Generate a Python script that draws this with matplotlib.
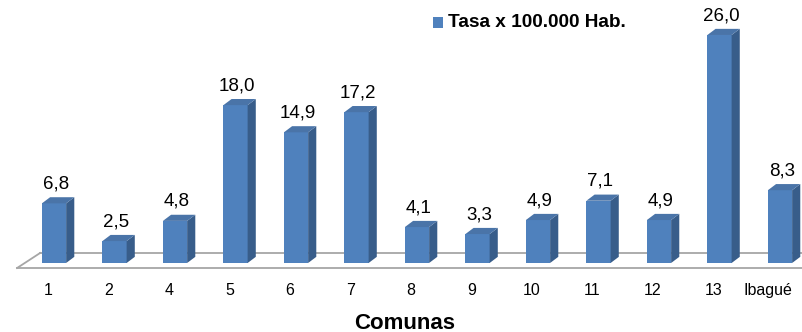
import matplotlib
matplotlib.use('Agg')
import matplotlib.pyplot as plt
from matplotlib.patches import Polygon

# datos
comunas = ['1', '2', '4', '5', '6', '7', '8', '9', '10', '11', '12', '13', 'Ibagué']
tasa = [6.8, 2.5, 4.8, 18.0, 14.9, 17.2, 4.1, 3.3, 4.9, 7.1, 4.9, 26.0, 8.3]
serie = 'Tasa x 100.000 Hab.'

plt.rcParams['font.family'] = ['Liberation Sans', 'DejaVu Sans']

front = '#4F81BD'
side = '#385D8A'
top = '#4A74A8'

fig = plt.figure(figsize=(8.03, 3.32), dpi=100)
ax = fig.add_axes([0, 0, 1, 1])
ax.set_xlim(-0.893, 12.38)
ax.set_ylim(-7.87, 29.99)
ax.axis('off')

w = 0.40   # ancho cara frontal
dx = 0.135  # profundidad en x
dy = 0.70   # profundidad en y

# piso
x0, x1 = -0.61, -0.23
yf, yb = -0.57, 1.14
ax.plot([x0, 13.5], [yf, yf], color='#A6A6A6', lw=1.3)
ax.plot([x1, 13.5], [yb, yb], color='#A6A6A6', lw=1.3)
ax.plot([x0, x1], [yf, yb], color='#A6A6A6', lw=1.3)

x = range(len(comunas))
bars = ax.bar(x, tasa, width=w, color=front, edgecolor='none', zorder=3)
for b, v in zip(bars, tasa):
    l = b.get_x()
    r = l + b.get_width()
    ax.add_patch(Polygon([(r, 0), (r + dx, dy), (r + dx, v + dy), (r, v)],
                         closed=True, facecolor=side, edgecolor='none', zorder=3))
    ax.add_patch(Polygon([(l, v), (r, v), (r + dx, v + dy), (l + dx, v + dy)],
                         closed=True, facecolor=top, edgecolor='none', zorder=3))
    ax.text(l + w / 2 + 0.03, v + dy + 0.55, f'{v:.1f}'.replace('.', ','),
            ha='center', va='bottom', fontsize=13.5)

for i, c in enumerate(comunas):
    xi = i - 0.2 if c == 'Ibagué' else i - 0.1
    ax.text(xi, -3.1, c, ha='center', va='center', fontsize=11.5)

ax.text(5.8, -6.85, 'Comunas', ha='center', va='center', fontsize=16, fontweight='bold')

# leyenda
ax.add_patch(Polygon([(6.27, 26.85), (6.435, 26.85), (6.435, 28.0), (6.27, 28.0)],
                     closed=True, facecolor=front, edgecolor='none'))
ax.text(6.51, 27.45, serie, ha='left', va='center', fontsize=13.7, fontweight='bold')

fig.savefig('out.png', dpi=100)
